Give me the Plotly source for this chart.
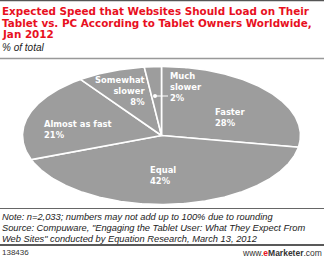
import numpy as np
import plotly.graph_objects as go

labels = ["Faster", "Equal", "Almost as fast", "Somewhat slower", "Much slower"]
values = [28, 42, 21, 8, 2]
label_text = ["Faster<br>28%", "Equal<br>42%", "Almost as fast<br>21%",
              "Somewhat<br>slower<br>8%", "Much<br>slower<br>2%"]

title_lines = ["Expected Speed that Websites Should Load on Their",
               "Tablet vs. PC According to Tablet Owners Worldwide,",
               "Jan 2012"]
subtitle = "% of total"
note_lines = ["Note: n=2,033; numbers may not add up to 100% due to rounding",
              "Source: Compuware, \"Engaging the Tablet User: What They Expect From",
              "Web Sites\" conducted by Equation Research, March 13, 2012"]
chart_id = "138436"

W, H = 324, 258
CX, CY, RX, RY = 161.5, 135.5, 139, 69
PIE = "#9d9d9d"

fig = go.Figure()
total = sum(values)
start = 0.0
for lab, v in zip(labels, values):
    a0 = start / total * 2 * np.pi
    a1 = (start + v) / total * 2 * np.pi
    t = np.linspace(a0, a1, max(8, int(v * 6)))
    xs = np.concatenate([[CX], CX + RX * np.sin(t), [CX]])
    ys = np.concatenate([[CY], CY - RY * np.cos(t), [CY]])
    fig.add_trace(go.Scatter(x=xs, y=ys, mode="lines", fill="toself",
                             fillcolor=PIE, line=dict(color="white", width=1.6),
                             hoverinfo="text", text=lab, showlegend=False))
    start += v

ann = []
TF = "DejaVu Sans"
for i, ln in enumerate(title_lines):
    ann.append(dict(x=1, y=4 + i * 11.7, text="<b>" + ln + "</b>", xanchor="left", yanchor="top",
                    font=dict(family=TF, size=10.4, color="#e8101e")))
ann.append(dict(x=1, y=41, text="<i>" + subtitle + "</i>", xanchor="left", yanchor="top",
                font=dict(family="Liberation Sans", size=10, color="#222")))
for i, ln in enumerate(note_lines):
    ann.append(dict(x=1, y=211 + i * 10.8, text="<i>" + ln + "</i>", xanchor="left", yanchor="top",
                    font=dict(family="Liberation Sans", size=9.3, color="#222")))
ann.append(dict(x=1, y=246.5, text=chart_id, xanchor="left", yanchor="top",
                font=dict(family="Liberation Sans", size=8, color="#333")))
ann.append(dict(x=323, y=246.5,
                text="www.<b><span style='color:#e8101e'>e</span>Marketer</b>.com",
                xanchor="right", yanchor="top",
                font=dict(family="Liberation Sans", size=8.5, color="#333")))

LF = dict(family=TF, size=8.4, color="white")
pos = [(214, 106, "left"), (149, 164, "left"), (43, 118, "left"), (146, 74, "right"), (169, 69.5, "left")]
for txt, (x, y, al) in zip(label_text, pos):
    ann.append(dict(x=x, y=y, text="<b>" + txt + "</b>", xanchor=al, yanchor="top", align=al,
                    font=LF))
for a in ann:
    a.update(xref="x", yref="y", showarrow=False, borderpad=0)

shapes = [
    dict(type="line", x0=0, x1=W, y0=0.5, y1=0.5, line=dict(color="#555", width=1.5)),
    dict(type="line", x0=0, x1=W, y0=58.5, y1=58.5, line=dict(color="#999", width=1.5)),
    dict(type="line", x0=0, x1=W, y0=208.5, y1=208.5, line=dict(color="#666", width=1)),
    dict(type="line", x0=0, x1=W, y0=245, y1=245, line=dict(color="#222", width=1.5)),
    dict(type="line", x0=155, x1=168, y0=96, y1=96, line=dict(color="white", width=1)),
    dict(type="circle", x0=153, x1=157, y0=94, y1=98, fillcolor="white", line=dict(color="white", width=0)),
]

fig.update_layout(
    width=W, height=H, margin=dict(l=0, r=0, t=0, b=0),
    paper_bgcolor="white", plot_bgcolor="white",
    xaxis=dict(range=[0, W], visible=False, fixedrange=True),
    yaxis=dict(range=[H, 0], visible=False, fixedrange=True),
    annotations=ann, shapes=shapes, showlegend=False,
)
fig.write_html("out.html", config={"displayModeBar": False})
